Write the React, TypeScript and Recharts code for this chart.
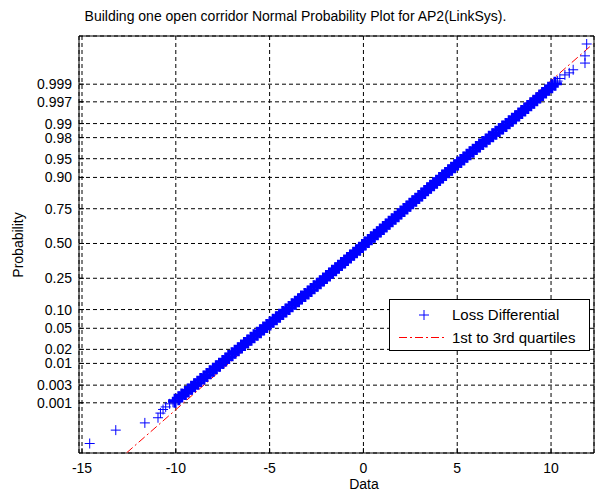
import { ScatterChart, Scatter, XAxis, YAxis, CartesianGrid } from 'recharts'

const FONT = '"Liberation Sans", Arial, sans-serif'

const xTicks = [-15, -10, -5, 0, 5, 10]
const probTicks = [0.001, 0.003, 0.01, 0.02, 0.05, 0.1, 0.25, 0.5, 0.75, 0.9, 0.95, 0.98, 0.99, 0.997, 0.999]
const probLabels = ['0.001', '0.003', '0.01', '0.02', '0.05', '0.10', '0.25', '0.50', '0.75', '0.90', '0.95', '0.98', '0.99', '0.997', '0.999']

// sorted loss differential samples (dB)
const lossValues = [
  -14.59, -13.2, -11.65, -10.95, -10.82, -10.68, -10.54, -10.33, -10.15,
  -10.04, -9.84, -9.68, -9.49, -9.34, -9.16, -9.0, -8.83, -8.67, -8.5,
  -8.34, -8.17, -8.0, -7.84, -7.67, -7.49, -7.34, -7.18, -7.0, -6.84,
  -6.67, -6.5, -6.34, -6.17, -5.99, -5.83, -5.66, -5.49, -5.32, -5.15,
  -4.98, -4.81, -4.64, -4.47, -4.3, -4.13, -3.96, -3.8, -3.63, -3.46,
  -3.3, -3.12, -2.95, -2.79, -2.63, -2.46, -2.3, -2.13, -1.97, -1.81,
  -1.65, -1.48, -1.33, -1.17, -1.0, -0.85, -0.69, -0.52, -0.37, -0.2,
  -0.05, 0.08, 0.26, 0.42, 0.58, 0.74, 0.9, 1.06, 1.21, 1.37,
  1.53, 1.69, 1.85, 2.0, 2.16, 2.32, 2.48, 2.63, 2.79, 2.95,
  3.11, 3.27, 3.42, 3.58, 3.74, 3.9, 4.06, 4.22, 4.38, 4.54,
  4.7, 4.86, 5.02, 5.19, 5.35, 5.52, 5.68, 5.85, 6.02, 6.19,
  6.36, 6.54, 6.71, 6.89, 7.06, 7.24, 7.42, 7.6, 7.77, 7.94,
  8.11, 8.28, 8.44, 8.6, 8.76, 8.92, 9.08, 9.24, 9.4, 9.55,
  9.71, 9.87, 10.04, 10.21,
  10.35, 10.47, 10.74, 10.97, 11.18, 11.81, 11.81, 11.9,
]

// normal scores (probability axis position) of the samples above
const normalScores = [
  -3.88, -3.62, -3.48, -3.38, -3.29, -3.22, -3.17, -3.11, -3.08,
  -3.05, -3.0, -2.95, -2.9, -2.85, -2.8, -2.75, -2.7, -2.65, -2.6,
  -2.55, -2.5, -2.45, -2.4, -2.35, -2.3, -2.25, -2.2, -2.15, -2.1,
  -2.05, -2.0, -1.95, -1.9, -1.85, -1.8, -1.75, -1.7, -1.65, -1.6,
  -1.55, -1.5, -1.45, -1.4, -1.35, -1.3, -1.25, -1.2, -1.15, -1.1,
  -1.05, -1.0, -0.95, -0.9, -0.85, -0.8, -0.75, -0.7, -0.65, -0.6,
  -0.55, -0.5, -0.45, -0.4, -0.35, -0.3, -0.25, -0.2, -0.15, -0.1,
  -0.05, 0.0, 0.05, 0.1, 0.15, 0.2, 0.25, 0.3, 0.35, 0.4,
  0.45, 0.5, 0.55, 0.6, 0.65, 0.7, 0.75, 0.8, 0.85, 0.9,
  0.95, 1.0, 1.05, 1.1, 1.15, 1.2, 1.25, 1.3, 1.35, 1.4,
  1.45, 1.5, 1.55, 1.6, 1.65, 1.7, 1.75, 1.8, 1.85, 1.9,
  1.95, 2.0, 2.05, 2.1, 2.15, 2.2, 2.25, 2.3, 2.35, 2.4,
  2.45, 2.5, 2.55, 2.6, 2.65, 2.7, 2.75, 2.8, 2.85, 2.9,
  2.95, 3.0, 3.05, 3.1,
  3.15, 3.2, 3.27, 3.31, 3.37, 3.5, 3.64, 3.87,
]

// how many isolated samples sit in each tail (the rest overlap into a band)
const lowTailCount = 9
const highTailCount = 8

// 1st to 3rd quartile reference line, extended
const quartileLineX = [-12.62, 12.2]
const quartileLineZ = [-4.06, 3.86]

// inverse standard normal cdf (Acklam) for the probability scale
function normInv(p: number) {
  const a = [-39.69683028665376, 220.9460984245205, -275.9285104469687, 138.357751867269, -30.66479806614716, 2.506628277459239]
  const b = [-54.47609879822406, 161.5858368580409, -155.6989798598866, 66.80131188771972, -13.28068155288572]
  const c = [-0.007784894002430293, -0.3223964580411365, -2.400758277161838, -2.549732539343734, 4.374664141464968, 2.938163982698783]
  const d = [0.007784695709041462, 0.3224671290700398, 2.445134137142996, 3.754408661907416]
  const tail = (q: number) =>
    (((((c[0] * q + c[1]) * q + c[2]) * q + c[3]) * q + c[4]) * q + c[5]) /
    ((((d[0] * q + d[1]) * q + d[2]) * q + d[3]) * q + 1)
  if (p < 0.02425) return tail(Math.sqrt(-2 * Math.log(p)))
  if (p > 1 - 0.02425) return -tail(Math.sqrt(-2 * Math.log(1 - p)))
  const q = p - 0.5
  const r = q * q
  return (
    ((((((a[0] * r + a[1]) * r + a[2]) * r + a[3]) * r + a[4]) * r + a[5]) * q) /
    (((((b[0] * r + b[1]) * r + b[2]) * r + b[3]) * r + b[4]) * r + 1)
  )
}

const yTicks = probTicks.map(normInv)

const points = lossValues.map((x, i) => ({
  x,
  y: normalScores[i],
  dense: i >= lowTailCount && i < lossValues.length - highTailCount,
}))
const refLine = quartileLineX.map((x, i) => ({ x, y: quartileLineZ[i] }))

const PlusMarker = (props: any) => {
  const { cx, cy, payload } = props
  if (cx == null || cy == null) return <g />
  const dense = payload && payload.dense
  const h = dense ? 7 : 5
  return (
    <path
      d={`M${cx - h},${cy}H${cx + h}M${cx},${cy - h}V${cy + h}`}
      stroke="#0000ff"
      strokeWidth={dense ? 3 : 1}
      fill="none"
    />
  )
}

const NoMarker = () => <g />

const tickStyle = { fill: '#000', fontSize: 14, fontFamily: FONT }

export default function App() {
  return (
    <div
      style={{
        position: 'absolute',
        left: 0,
        top: 0,
        width: 595,
        height: 492,
        background: '#fff',
        fontFamily: FONT,
        color: '#000',
        overflow: 'hidden',
      }}
    >
      <ScatterChart width={595} height={492} margin={{ top: 35, right: 0, bottom: 38, left: 78 }}>
        <CartesianGrid stroke="#000" strokeDasharray="4 3" />
        <XAxis
          type="number"
          dataKey="x"
          domain={[-15.16, 12.29]}
          ticks={xTicks}
          allowDataOverflow
          height={1}
          stroke="#000"
          tickSize={-5}
          tickMargin={15}
          tick={tickStyle}
        />
        <XAxis
          xAxisId="top"
          orientation="top"
          type="number"
          dataKey="x"
          domain={[-15.16, 12.29]}
          ticks={xTicks}
          allowDataOverflow
          height={1}
          stroke="#000"
          tickSize={-5}
          tick={false}
        />
        <YAxis
          type="number"
          dataKey="y"
          domain={[-4.064, 4.025]}
          ticks={yTicks}
          allowDataOverflow
          interval={0}
          width={1}
          stroke="#000"
          tickSize={-5}
          tickMargin={12}
          tick={tickStyle}
          tickFormatter={(_v: number, i: number) => probLabels[i]}
        />
        <YAxis
          yAxisId="right"
          orientation="right"
          type="number"
          dataKey="y"
          domain={[-4.064, 4.025]}
          ticks={yTicks}
          allowDataOverflow
          interval={0}
          width={1}
          stroke="#000"
          tickSize={-5}
          tick={false}
        />
        <Scatter
          data={refLine}
          line={{ stroke: '#ff0000', strokeWidth: 1, strokeDasharray: '8 3 2 3' }}
          shape={NoMarker}
          isAnimationActive={false}
        />
        <Scatter data={points} shape={PlusMarker} isAnimationActive={false} />
      </ScatterChart>

      <div style={{ position: 'absolute', left: 0, top: 8, width: 591, textAlign: 'center', fontSize: 14, lineHeight: '16px' }}>
        Building one open corridor Normal Probability Plot for AP2(LinkSys).
      </div>
      <div
        style={{
          position: 'absolute',
          left: -32,
          top: 237,
          width: 100,
          textAlign: 'center',
          fontSize: 14,
          lineHeight: '16px',
          transform: 'rotate(-90deg)',
        }}
      >
        Probability
      </div>
      <div style={{ position: 'absolute', left: 314, top: 476, width: 100, textAlign: 'center', fontSize: 14, lineHeight: '16px' }}>
        Data
      </div>

      <div
        style={{
          position: 'absolute',
          left: 389,
          top: 299,
          width: 199,
          height: 50,
          border: '1px solid #000',
          background: '#fff',
          fontSize: 15,
        }}
      >
        <svg width={199} height={50} style={{ position: 'absolute', left: 0, top: 0 }}>
          <path d="M29,15H39M34,10V20" stroke="#0000ff" strokeWidth={1} fill="none" />
          <line x1={9} y1={37.5} x2={54} y2={37.5} stroke="#ff0000" strokeWidth={1} strokeDasharray="8 3 2 3" />
        </svg>
        <div style={{ position: 'absolute', left: 62, top: 6, lineHeight: '18px', whiteSpace: 'nowrap' }}>Loss Differential</div>
        <div style={{ position: 'absolute', left: 62, top: 29, lineHeight: '18px', whiteSpace: 'nowrap' }}>1st to 3rd quartiles</div>
      </div>
    </div>
  )
}
